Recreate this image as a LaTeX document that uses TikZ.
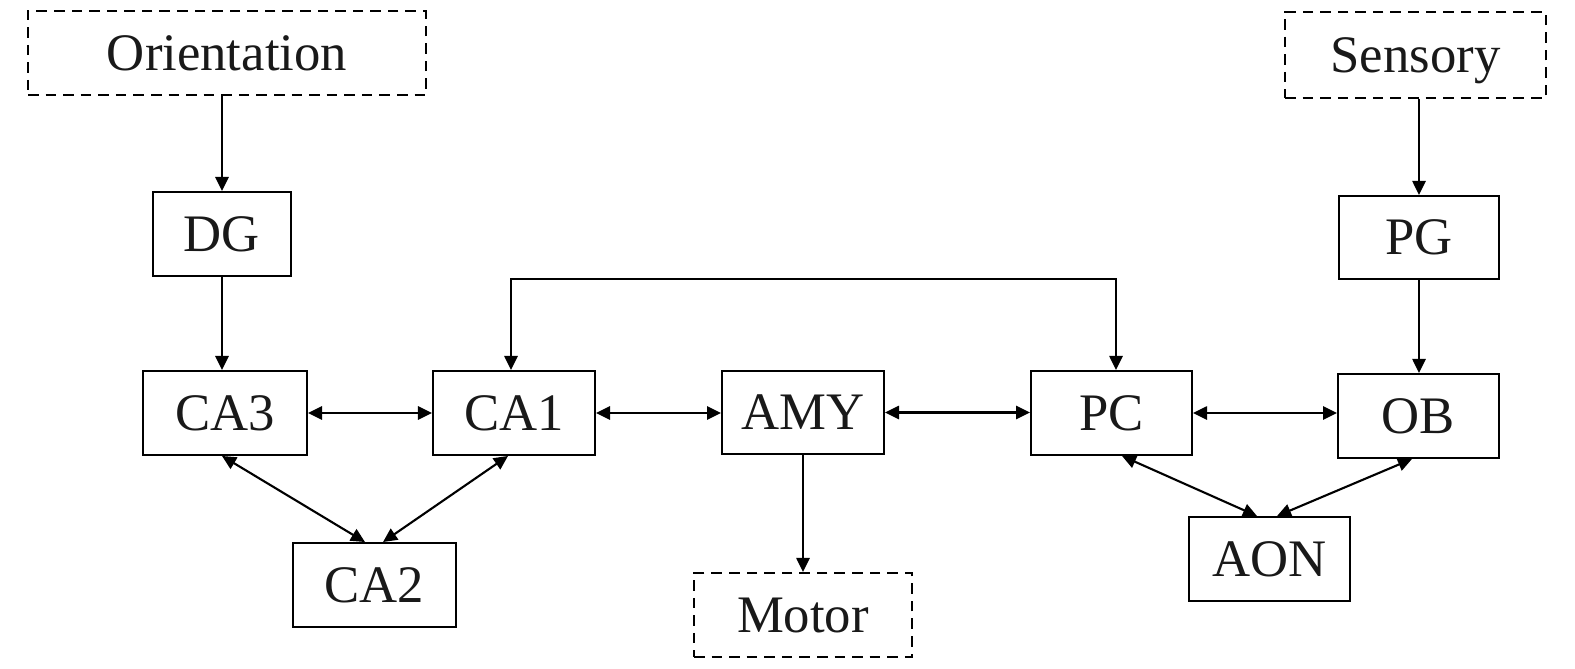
\documentclass[tikz,border=0pt]{standalone}
\usepackage{fontspec}
\setmainfont{Liberation Serif}
\usetikzlibrary{arrows.meta,calc}
\begin{document}
\begin{tikzpicture}[x=0.02cm,y=-0.02cm,
  every node/.style={font=\fontsize{30}{36}\selectfont, text height=19.8pt, text depth=0pt, inner sep=0pt, text=black!90},
  box/.style={draw, line width=1.1pt},
  dbox/.style={draw, line width=1.1pt, dash pattern=on 6pt off 4pt},
  conn/.style={line width=1.2pt, -{Triangle[length=8pt,width=7.5pt]}},
  dconn/.style={line width=1.2pt, {Triangle[length=8pt,width=7.5pt]}-{Triangle[length=8pt,width=7.5pt]}}
]
\useasboundingbox (0,0) rectangle (1575,669);
% nodes
\node[dbox, minimum width=7.96cm, minimum height=1.68cm] (orient) at (227,53) {Orientation};
\node[dbox, minimum width=5.22cm, minimum height=1.72cm] (sens) at (1415.5,55) {Sensory};
\node[box, minimum width=2.76cm, minimum height=1.68cm] (dg) at (222,234) {DG};
\node[box, minimum width=3.20cm, minimum height=1.66cm] (pg) at (1419,237.5) {PG};
\node[box, minimum width=3.28cm, minimum height=1.68cm] (ca3) at (225,413) {CA3};
\node[box, minimum width=3.24cm, minimum height=1.68cm] (ca1) at (514,413) {CA1};
\node[box, minimum width=3.24cm, minimum height=1.66cm] (amy) at (803,412.5) {AMY};
\node[box, minimum width=3.22cm, minimum height=1.68cm] (pc) at (1111.5,413) {PC};
\node[box, minimum width=3.22cm, minimum height=1.68cm] (ob) at (1418.5,416) {OB};
\node[box, minimum width=3.26cm, minimum height=1.68cm] (ca2) at (374.5,585) {CA2};
\node[dbox, minimum width=4.36cm, minimum height=1.68cm] (motor) at (803,615) {Motor};
\node[box, minimum width=3.22cm, minimum height=1.68cm] (aon) at (1269.5,559) {AON};
\coordinate (topy) at (0,279);
% vertical arrows
\draw[conn] (orient.south -| dg.north) -- (dg.north);
\draw[conn] (dg.south) -- (dg.south |- ca3.north);
\draw[conn] (sens.south -| pg.north) -- (pg.north);
\draw[conn] (pg.south) -- (ob.north -| pg.south);
\draw[conn] (amy.south) -- (motor.north -| amy.south);
% top loop CA1 <-> PC
\draw[dconn] ([xshift=-0.06cm]ca1.north) -- ([xshift=-0.06cm]ca1.north |- topy) -| ([xshift=0.09cm]pc.north);
% horizontal double arrows
\draw[dconn] (ca3.east) -- (ca1.west);
\draw[dconn] (ca1.east) -- (ca1.east -| amy.west);
\draw[dconn] (amy.east) -- (amy.east -| pc.west);
\draw[dconn] (pc.east) -- (pc.east -| ob.west);
% diagonals
\draw[dconn] ([xshift=-0.06cm]ca3.south) -- ([xshift=-0.19cm]ca2.north);
\draw[dconn] ([xshift=-0.12cm]ca1.south) -- ([xshift=0.17cm]ca2.north);
\draw[dconn] ([xshift=0.21cm]pc.south) -- ([xshift=-0.25cm]aon.north);
\draw[dconn] ([xshift=-0.13cm]ob.south) -- ([xshift=0.15cm]aon.north);
\end{tikzpicture}
\end{document}
